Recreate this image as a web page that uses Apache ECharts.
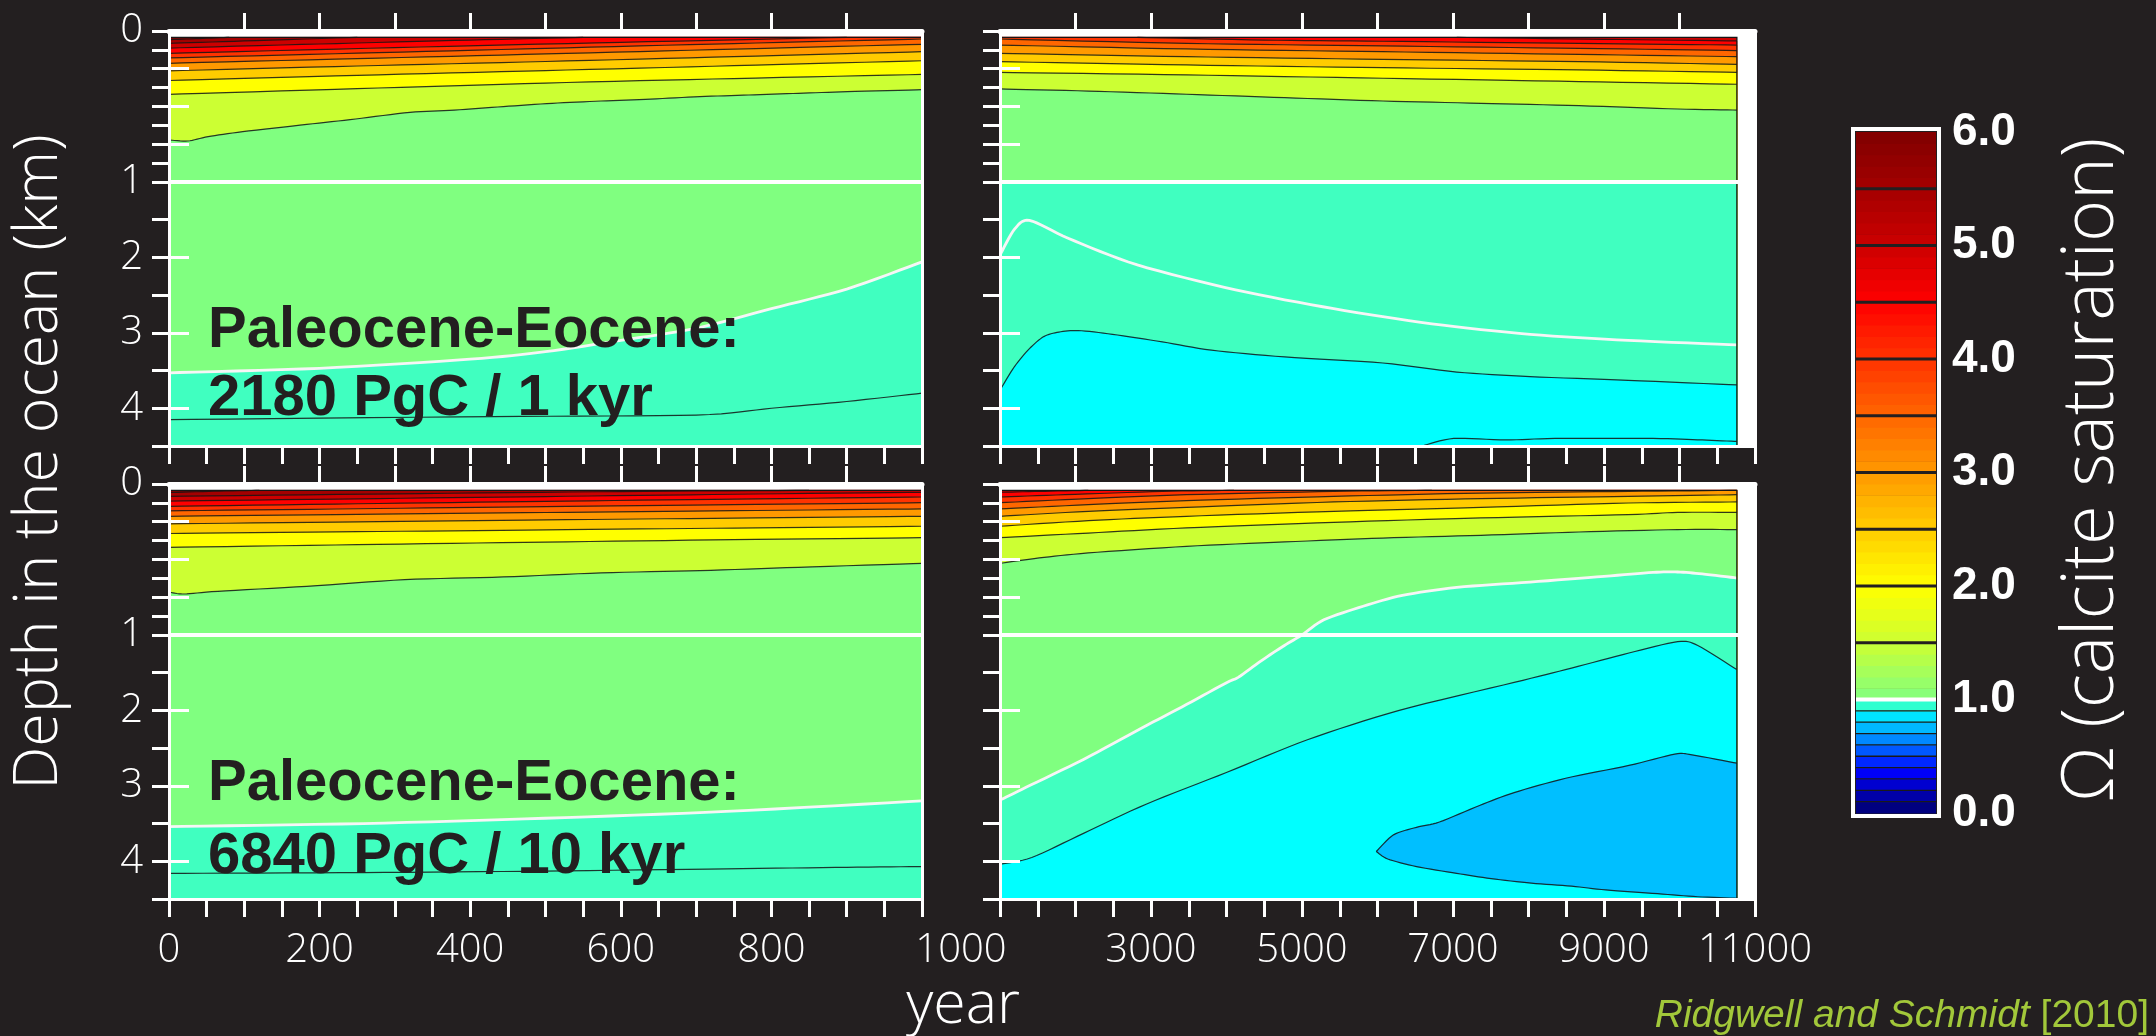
<!DOCTYPE html>
<html>
<head>
<meta charset="utf-8">
<title>Calcite saturation during Paleocene-Eocene carbon release</title>
<script src="https://cdn.jsdelivr.net/npm/echarts@6.0.0/dist/echarts.min.js"></script>
<style>
  html, body { margin: 0; padding: 0; background: #231f20; }
  #chart { width: 2156px; height: 1036px; }
</style>
</head>
<body>
<div id="chart"></div>
<script>
// ---------------- data: years, depth in km, omega = calcite saturation ----------------
const surfaceLayerTop = 0.042;   // top of the shallowest model layer (km)
const oceanFloor = 4.5;          // km
const depthBreak = 1;            // upper kilometre is drawn at double scale
const longRunEnd = 10760;        // last stored year of the long runs

const depthTicks = [0, 0.125, 0.25, 0.375, 0.5, 0.625, 0.75, 0.875, 1, 1.5, 2, 2.5, 3, 3.5, 4, 4.5];
const depthMajorTicks = [0.25, 0.5, 0.75, 2, 3, 4];
const depthLabels = [0, 1, 2, 3, 4];
const yearLabelsShort = [0, 200, 400, 600, 800];
const yearLabelsLong = [3000, 5000, 7000, 9000, 11000];
const sharedYearLabel = '1000';
const omegaLabels = [0, 1, 2, 3, 4, 5, 6];

// contour lines: [omega of the line, band below the line, [[year, depth], ...]]
const pulse1kyrEarly = [
  [6.0, 5.5, [[0, 0.057], [40, 0.050], [80, 0.042]]],
  [5.5, 5.0, [[0, 0.082], [100, 0.066], [250, 0.042]]],
  [5.0, 4.5, [[0, 0.113], [200, 0.086], [400, 0.060], [550, 0.042]]],
  [4.5, 4.0, [[0, 0.148], [300, 0.110], [600, 0.075], [900, 0.042]]],
  [4.0, 3.5, [[0, 0.178], [250, 0.147], [500, 0.115], [750, 0.083], [1000, 0.053]]],
  [3.5, 3.0, [[0, 0.214], [250, 0.183], [500, 0.152], [750, 0.120], [1000, 0.088]]],
  [3.0, 2.5, [[0, 0.264], [250, 0.232], [500, 0.202], [750, 0.170], [1000, 0.137]]],
  [2.5, 2.0, [[0, 0.328], [250, 0.294], [500, 0.262], [750, 0.230], [1000, 0.197]]],
  [2.0, 1.5, [[0, 0.420], [250, 0.382], [500, 0.345], [750, 0.315], [1000, 0.288]]],
  [1.5, 1.0, [[0, 0.722], [25, 0.729], [52, 0.700], [98, 0.667], [183, 0.619], [248, 0.583], [320, 0.539],
              [379, 0.524], [444, 0.501], [509, 0.479], [574, 0.464], [640, 0.451], [705, 0.435],
              [770, 0.424], [836, 0.413], [901, 0.402], [1000, 0.389]]],
  [1.0, 0.9, [[0, 3.53], [200, 3.47], [400, 3.35], [500, 3.25], [600, 3.10], [700, 2.94], [800, 2.68], [900, 2.42], [1000, 2.06]]],
  [0.95, 0.9, [[0, 4.15], [430, 4.11], [700, 4.09], [800, 4.00], [900, 3.91], [1000, 3.80]]]
];

const pulse1kyrLate = [
  [5.0, 4.5, [[7050, 0.042], [9000, 0.055], [10760, 0.066]]],
  [4.5, 4.0, [[2820, 0.042], [4500, 0.060], [6070, 0.068], [8670, 0.082], [10760, 0.093]]],
  [4.0, 3.5, [[1000, 0.053], [3470, 0.082], [6070, 0.099], [8670, 0.115], [10760, 0.130]]],
  [3.5, 3.0, [[1000, 0.093], [3470, 0.119], [6070, 0.137], [8670, 0.155], [10760, 0.170]]],
  [3.0, 2.5, [[1000, 0.148], [3470, 0.170], [6070, 0.188], [8670, 0.203], [10760, 0.221]]],
  [2.5, 2.0, [[1000, 0.203], [3470, 0.225], [6070, 0.243], [8670, 0.258], [10760, 0.274]]],
  [2.0, 1.5, [[1000, 0.274], [3470, 0.291], [6070, 0.313], [8670, 0.335], [10760, 0.353]]],
  [1.5, 1.0, [[1000, 0.384], [2170, 0.398], [3470, 0.419], [4770, 0.442], [6070, 0.464], [7370, 0.479],
              [8670, 0.495], [9975, 0.517], [10760, 0.524]]],
  [1.0, 0.9, [[1000, 1.0], [10760, 1.0]]],
  [1.0, 0.9, [[1000, 1.97], [1190, 1.63], [1390, 1.51], [1910, 1.75], [2820, 2.10], [4120, 2.43], [5420, 2.68],
              [6720, 2.88], [8020, 3.02], [9320, 3.10], [10760, 3.16]]],
  [0.9, 0.8, [[1000, 3.76], [1190, 3.45], [1390, 3.21], [1580, 3.05], [1780, 2.99], [2040, 2.97], [2490, 3.02],
              [3150, 3.12], [3800, 3.23], [4770, 3.32], [6070, 3.40], [7050, 3.52], [8020, 3.58], [9320, 3.63], [10760, 3.69]]],
  [0.85, 0.8, [[6590, 4.5], [7010, 4.40], [7700, 4.42], [8350, 4.40], [9650, 4.40], [10300, 4.42], [10760, 4.44]]]
];

const pulse10kyrEarly = [
  [6.0, 5.5, [[0, 0.057], [60, 0.048], [120, 0.042]]],
  [5.5, 5.0, [[0, 0.082], [300, 0.065], [600, 0.050], [850, 0.042]]],
  [5.0, 4.5, [[0, 0.113], [250, 0.098], [500, 0.083], [750, 0.068], [1000, 0.055]]],
  [4.5, 4.0, [[0, 0.148], [250, 0.131], [500, 0.115], [750, 0.100], [1000, 0.086]]],
  [4.0, 3.5, [[0, 0.178], [250, 0.164], [500, 0.150], [750, 0.137], [1000, 0.124]]],
  [3.5, 3.0, [[0, 0.214], [250, 0.201], [500, 0.189], [750, 0.177], [1000, 0.165]]],
  [3.0, 2.5, [[0, 0.264], [250, 0.251], [500, 0.238], [750, 0.226], [1000, 0.214]]],
  [2.5, 2.0, [[0, 0.328], [250, 0.316], [500, 0.304], [750, 0.292], [1000, 0.280]]],
  [2.0, 1.5, [[0, 0.420], [250, 0.402], [500, 0.385], [750, 0.369], [1000, 0.356]]],
  [1.5, 1.0, [[0, 0.716], [20, 0.729], [65, 0.711], [183, 0.678], [313, 0.634], [444, 0.616], [574, 0.589],
              [705, 0.574], [836, 0.552], [1000, 0.526]]],
  [1.0, 0.9, [[0, 3.54], [258, 3.50], [499, 3.43], [740, 3.34], [1000, 3.20]]],
  [0.95, 0.9, [[0, 4.16], [258, 4.15], [499, 4.13], [740, 4.10], [900, 4.08], [1000, 4.07]]]
];

const pulse10kyrLate = [
  [5.0, 4.5, [[1000, 0.055], [1520, 0.049], [2170, 0.042]]],
  [4.5, 4.0, [[1000, 0.086], [1860, 0.071], [3150, 0.049], [4100, 0.042]]],
  [4.0, 3.5, [[1000, 0.124], [2170, 0.097], [3470, 0.071], [5420, 0.049], [6720, 0.042]]],
  [3.5, 3.0, [[1000, 0.165], [2170, 0.137], [3470, 0.110], [5420, 0.082], [7370, 0.060], [9320, 0.049], [10760, 0.042]]],
  [3.0, 2.5, [[1000, 0.214], [2170, 0.181], [3470, 0.155], [5420, 0.119], [7370, 0.097], [9320, 0.082], [10760, 0.071]]],
  [2.5, 2.0, [[1000, 0.280], [2170, 0.243], [3470, 0.214], [5420, 0.181], [7370, 0.155], [9320, 0.126], [10760, 0.119]]],
  [2.0, 1.5, [[1000, 0.356], [2170, 0.325], [3470, 0.291], [5420, 0.254], [7370, 0.225], [9320, 0.203], [9975, 0.188], [10760, 0.188]]],
  [1.5, 1.0, [[1000, 0.526], [1520, 0.490], [2170, 0.457], [3470, 0.413], [4770, 0.384], [6070, 0.358],
              [7370, 0.340], [8670, 0.318], [9975, 0.302], [10760, 0.302]]],
  [1.0, 0.9, [[1000, 3.19], [1345, 3.02], [2106, 2.65], [2866, 2.24], [3474, 1.92], [4007, 1.63], [4160, 1.56],
              [4464, 1.34], [4767, 1.14], [5000, 1.0], [5290, 0.90], [5810, 0.81], [6330, 0.738], [7050, 0.685],
              [8020, 0.65], [9000, 0.612], [9650, 0.586], [9975, 0.583], [10300, 0.596], [10760, 0.623]]],
  [0.9, 0.8, [[1000, 4.04], [1421, 3.95], [2106, 3.63], [2943, 3.24], [4007, 2.82], [5072, 2.39], [6288, 2.00],
              [7810, 1.63], [8570, 1.44], [9330, 1.24], [9976, 1.09], [10242, 1.14], [10758, 1.46]]]
];

// closed omega = 0.8 region of the 10 kyr run: upper and lower edges from the western tip
const pulse10kyrCoreUpper = [[5984, 3.87], [6212, 3.65], [6517, 3.55], [6820, 3.48], [7352, 3.26], [7810, 3.09],
  [8493, 2.90], [9330, 2.73], [9938, 2.58], [10166, 2.59], [10760, 2.70]];
const pulse10kyrCoreLower = [[5984, 3.87], [6136, 3.97], [6517, 4.07], [7048, 4.16], [7505, 4.23], [8037, 4.29],
  [8570, 4.33], [9025, 4.38], [9710, 4.43], [10242, 4.47], [10760, 4.49]];

// ---------------- styling ----------------
const BG = '#231f20';
const LIGHT_FONT = "'Open Sans', Lato, sans-serif";
const bandColours = {
  '6': '#800000', '5.5': '#a40000', '5': '#cc0000', '4.5': '#ff0000', '4': '#ff3300',
  '3.5': '#ff6600', '3': '#ff9900', '2.5': '#ffcc00', '2': '#ffff00', '1.5': '#ccff33',
  '1': '#80ff80', '0.9': '#40ffc0', '0.8': '#00ffff', '0.7': '#00bfff'
};
const bandFill = b => bandColours[String(b)];
const lowScaleColours = ['#000080', '#0000a8', '#0000d0', '#0000f8', '#0028ff', '#0058ff',
                         '#0088ff', '#00b8ff', '#00e4ff', '#30ffd0'];
const contourInk = 'rgba(20,20,20,0.85)';

// depth (km) -> position on the stretched depth axis
const toAxis = d => (d <= depthBreak ? d * 2 : d + depthBreak);

const range = (a, b, s) => { const r = []; for (let v = a; v <= b + 1e-9; v += s) r.push(v); return r; };

// smooth curve through projected contour vertices (cubic Hermite, Catmull-Rom tangents)
function smoothPixels(pts) {
  if (pts.length < 3) return pts;
  const k = 0.42, out = [pts[0]];
  for (let i = 0; i < pts.length - 1; i++) {
    const p0 = pts[Math.max(0, i - 1)], p1 = pts[i], p2 = pts[i + 1], p3 = pts[Math.min(pts.length - 1, i + 2)];
    const m1 = [(p2[0] - p0[0]) * k, (p2[1] - p0[1]) * k];
    const m2 = [(p3[0] - p1[0]) * k, (p3[1] - p1[1]) * k];
    for (let s = 1; s <= 8; s++) {
      const t = s / 8, t2 = t * t, t3 = t2 * t;
      const h00 = 2 * t3 - 3 * t2 + 1, h10 = t3 - 2 * t2 + t, h01 = -2 * t3 + 3 * t2, h11 = t3 - t2;
      out.push([h00 * p1[0] + h10 * m1[0] + h01 * p2[0] + h11 * m2[0],
                h00 * p1[1] + h10 * m1[1] + h01 * p2[1] + h11 * m2[1]]);
    }
  }
  return out;
}

const panels = [
  { left: 169, top: 31, width: 753, height: 415, x: [0, 1000], end: 1000, step: 50,
    inner: range(100, 900, 100), labels: null, yLabels: true, base: 6, contours: pulse1kyrEarly },
  { left: 1000, top: 31, width: 755, height: 415, x: [1000, 11000], end: longRunEnd, step: 500,
    inner: range(2000, 10000, 1000), labels: null, yLabels: false, base: 5, contours: pulse1kyrLate },
  { left: 169, top: 484, width: 753, height: 415, x: [0, 1000], end: 1000, step: 50,
    inner: range(100, 900, 100), labels: yearLabelsShort, yLabels: true, base: 6, contours: pulse10kyrEarly },
  { left: 1000, top: 484, width: 755, height: 415, x: [1000, 11000], end: longRunEnd, step: 500,
    inner: range(2000, 10000, 1000), labels: yearLabelsLong, yLabels: false, base: 5, contours: pulse10kyrLate,
    core: { upper: pulse10kyrCoreUpper, lower: pulse10kyrCoreLower, band: 0.7 } }
];

function buildShapes(p) {
  const x0 = p.x[0], x1 = p.end;
  const atTop = pt => pt[1] <= surfaceLayerTop + 1e-9;
  const shapes = [{
    kind: 'rect', fill: bandFill(p.base),
    pts: [[x0, surfaceLayerTop], [x1, surfaceLayerTop], [x1, oceanFloor], [x0, oceanFloor]]
  }];
  p.contours.forEach(([omega, below, line]) => {
    const first = line[0], last = line[line.length - 1];
    const pre = [], post = [];
    if (atTop(first) && first[0] > x0) pre.push([x0, surfaceLayerTop]);
    if (atTop(last) && last[0] < x1) post.push([x1, surfaceLayerTop]);
    post.push([post.length ? x1 : last[0], oceanFloor], [pre.length ? x0 : first[0], oceanFloor]);
    shapes.push({ kind: 'band', line, pre, post, fill: bandFill(below) });
  });
  if (p.core) shapes.push({ kind: 'core', upper: p.core.upper, lower: p.core.lower, fill: bandFill(p.core.band) });
  p.contours.forEach(([omega, below, line]) => {
    const sat = omega === 1;
    shapes.push({ kind: 'stroke', line, stroke: sat ? '#f6f6f6' : contourInk, lw: sat ? 2.8 : 1.2 });
  });
  if (p.core) {
    shapes.push({ kind: 'stroke', line: p.core.upper, stroke: contourInk, lw: 1.2 });
    shapes.push({ kind: 'stroke', line: p.core.lower, stroke: contourInk, lw: 1.2 });
  }
  // outline of the stored model domain (surface layer top and last stored year)
  shapes.push({ kind: 'edge', line: [[x0, surfaceLayerTop], [x1, surfaceLayerTop], [x1, oceanFloor]], stroke: '#161616', lw: 1.3 });
  return shapes;
}

const whiteLine = w => ({ show: true, onZero: false, lineStyle: { color: '#fff', width: w } });
const tickLabelStyle = { color: '#fff', fontFamily: LIGHT_FONT, fontWeight: 300, fontSize: 40 };

const grid = [], xAxis = [], yAxis = [], series = [];

panels.forEach((p, gi) => {
  grid.push({ left: p.left, top: p.top, width: p.width, height: p.height, show: true,
              backgroundColor: '#ffffff', borderWidth: 0 });
  const xi = xAxis.length, yi = yAxis.length;
  const xBase = { type: 'value', gridIndex: gi, min: p.x[0], max: p.x[1], z: 10, splitLine: { show: false } };
  const yBase = { type: 'value', gridIndex: gi, min: 0, max: toAxis(oceanFloor), inverse: true, z: 10, splitLine: { show: false } };

  xAxis.push(Object.assign({}, xBase, {
    position: 'bottom', interval: p.step, axisLine: whiteLine(3),
    axisTick: { show: true, length: 18, customValues: range(p.x[0], p.x[1], p.step), lineStyle: { color: '#fff', width: 3 } },
    axisLabel: p.labels ? Object.assign({ show: true, margin: 32, customValues: p.labels, formatter: v => String(v) }, tickLabelStyle)
                        : { show: false }
  }));
  xAxis.push(Object.assign({}, xBase, {
    position: 'bottom', axisLine: { show: false },
    axisTick: { show: true, inside: true, length: 18, customValues: p.inner, lineStyle: { color: '#fff', width: 3 } },
    axisLabel: { show: false }
  }));
  xAxis.push(Object.assign({}, xBase, {
    position: 'top', axisLine: whiteLine(5), axisTick: { show: false }, axisLabel: { show: false }
  }));

  yAxis.push(Object.assign({}, yBase, {
    position: 'left', axisLine: whiteLine(3),
    axisTick: { show: true, length: 17, customValues: depthTicks.map(toAxis), lineStyle: { color: '#fff', width: 3 } },
    axisLabel: p.yLabels ? Object.assign({
      show: true, margin: 26, customValues: depthLabels.map(toAxis),
      formatter: v => String(v <= 2 ? v / 2 : v - depthBreak)
    }, tickLabelStyle) : { show: false }
  }));
  yAxis.push(Object.assign({}, yBase, {
    position: 'left', axisLine: { show: false },
    axisTick: { show: true, inside: true, length: 20, customValues: depthMajorTicks.map(toAxis), lineStyle: { color: '#fff', width: 3 } },
    axisLabel: { show: false }
  }));
  yAxis.push(Object.assign({}, yBase, {
    position: 'right', axisLine: whiteLine(3), axisTick: { show: false }, axisLabel: { show: false }
  }));

  const shapes = buildShapes(p);
  series.push({
    type: 'custom', xAxisIndex: xi, yAxisIndex: yi, clip: true, silent: true, z: 2,
    data: shapes.map((s, i) => [p.x[0], 0, i]), encode: { x: 0, y: 1 },
    renderItem: (params, api) => {
      const s = shapes[params.dataIndex];
      const px = arr => arr.map(q => api.coord([q[0], toAxis(q[1])]));
      if (s.kind === 'rect') {
        return { type: 'polygon', shape: { points: px(s.pts) }, style: { fill: s.fill } };
      }
      if (s.kind === 'band') {
        const points = px(s.pre).concat(smoothPixels(px(s.line)), px(s.post));
        return { type: 'polygon', shape: { points }, style: { fill: s.fill, stroke: s.fill, lineWidth: 0.6 } };
      }
      if (s.kind === 'core') {
        const points = smoothPixels(px(s.upper)).concat(smoothPixels(px(s.lower)).reverse());
        return { type: 'polygon', shape: { points }, style: { fill: s.fill, stroke: s.fill, lineWidth: 0.6 } };
      }
      const points = s.kind === 'edge' ? px(s.line) : smoothPixels(px(s.line));
      return { type: 'polyline', shape: { points }, style: { stroke: s.stroke, lineWidth: s.lw, fill: null } };
    }
  });
  // white rule marking the change of depth scale at 1 km
  series.push({
    type: 'line', xAxisIndex: xi, yAxisIndex: yi, silent: true, z: 6, symbol: 'none',
    lineStyle: { color: '#ffffff', width: 4 },
    data: [[p.x[0], toAxis(depthBreak)], [p.x[1], toAxis(depthBreak)]]
  });
});

// ---------------- colour scale ----------------
const hex = c => [1, 3, 5].map(i => parseInt(c.slice(i, i + 2), 16));
const mix = (a, b, f) => { const A = hex(a), B = hex(b);
  return 'rgb(' + A.map((v, i) => Math.round(v + (B[i] - v) * f)).join(',') + ')'; };
function scaleColour(v) {
  if (v < 1) return lowScaleColours[Math.min(9, Math.floor(v * 10))];
  const lower = 1 + 0.5 * Math.floor((v - 1) / 0.5);
  return mix(bandFill(lower), bandFill(Math.min(6, lower + 0.5)), (v - lower) / 0.5);
}
const scaleItems = [];
for (let i = 0; i < 60; i++) scaleItems.push({ kind: 'step', v0: i / 10, v1: (i + 1) / 10, fill: scaleColour(i / 10 + 0.05) });
for (let i = 1; i < 10; i++) scaleItems.push({ kind: 'line', v: i / 10, stroke: '#1a1a1a', lw: 1.3 });
for (let v = 1.5; v < 6; v += 0.5) scaleItems.push({ kind: 'line', v, stroke: '#231f20', lw: 3 });
scaleItems.push({ kind: 'line', v: 1, stroke: '#ffffff', lw: 4, inset: true });
scaleItems.push({ kind: 'frame' });

const gScale = grid.length;
grid.push({ left: 1856, top: 132, width: 80, height: 681, show: false });
xAxis.push({ type: 'value', gridIndex: gScale, min: 0, max: 1, show: false });
yAxis.push({ type: 'value', gridIndex: gScale, min: 0, max: 6, position: 'right',
  axisLine: { show: false }, axisTick: { show: false }, splitLine: { show: false },
  axisLabel: { show: true, margin: 16, customValues: omegaLabels, formatter: v => v.toFixed(1), padding: [16, 0, 0, 0],
               color: '#fff', fontFamily: "'Liberation Sans', Arial, sans-serif", fontWeight: 'bold', fontSize: 46 } });
series.push({
  type: 'custom', xAxisIndex: xAxis.length - 1, yAxisIndex: yAxis.length - 1, clip: false, silent: true, z: 3,
  data: scaleItems.map((s, i) => [0, 0, i]), encode: { x: 0, y: 1 },
  renderItem: (params, api) => {
    const it = scaleItems[params.dataIndex];
    if (it.kind === 'step') {
      const a = api.coord([0, it.v1]), b = api.coord([1, it.v0]);
      return { type: 'rect', shape: { x: a[0], y: a[1], width: b[0] - a[0], height: b[1] - a[1] + 0.6 }, style: { fill: it.fill } };
    }
    if (it.kind === 'line') {
      const e = it.inset ? 0 : 0.03;
      const a = api.coord([-e, it.v]), b = api.coord([1 + e, it.v]);
      return { type: 'line', shape: { x1: a[0], y1: a[1], x2: b[0], y2: b[1] }, style: { stroke: it.stroke, lineWidth: it.lw } };
    }
    const a = api.coord([0, 6]), b = api.coord([1, 0]);
    return { type: 'rect', shape: { x: a[0] - 3, y: a[1] - 3, width: b[0] - a[0] + 6, height: b[1] - a[1] + 6 },
             style: { fill: null, stroke: '#ffffff', lineWidth: 4 } };
  }
});

// ---------------- titles and annotations ----------------
const runTitleStyle = { fill: BG, font: "bold 58px 'Liberation Sans', Arial, sans-serif", textAlign: 'left', textVerticalAlign: 'middle' };
const graphic = [
  { type: 'text', x: 40, y: 462, rotation: Math.PI / 2, z: 100,
    style: { text: 'Depth in the ocean (km)', fill: '#fff', font: `300 61px ${LIGHT_FONT}`, textAlign: 'center', textVerticalAlign: 'middle' } },
  { type: 'text', x: 963, y: 1006, z: 100,
    style: { text: 'year', fill: '#fff', font: `300 59px ${LIGHT_FONT}`, textAlign: 'center', textVerticalAlign: 'middle' } },
  { type: 'text', x: 961, y: 951, z: 100,
    style: { text: sharedYearLabel, fill: '#fff', font: `300 40px ${LIGHT_FONT}`, textAlign: 'center', textVerticalAlign: 'middle' } },
  { type: 'text', x: 2092, y: 470, rotation: Math.PI / 2, z: 100,
    style: { text: 'Ω (calcite saturation)', fill: '#fff', font: `300 72px ${LIGHT_FONT}`, textAlign: 'center', textVerticalAlign: 'middle' } },
  { type: 'text', x: 208, y: 331, z: 100, style: Object.assign({ text: 'Paleocene-Eocene:' }, runTitleStyle) },
  { type: 'text', x: 208, y: 399, z: 100, style: Object.assign({ text: '2180 PgC / 1 kyr' }, runTitleStyle) },
  { type: 'text', x: 208, y: 784, z: 100, style: Object.assign({ text: 'Paleocene-Eocene:' }, runTitleStyle) },
  { type: 'text', x: 208, y: 857, z: 100, style: Object.assign({ text: '6840 PgC / 10 kyr' }, runTitleStyle) },
  { type: 'text', x: 2149, y: 1016, z: 100,
    style: { text: '{i|Ridgwell and Schmidt} [2010]', fill: '#a2c83a', font: "39px 'Liberation Sans', Arial, sans-serif",
             textAlign: 'right', textVerticalAlign: 'middle',
             rich: { i: { fontStyle: 'italic', fill: '#a2c83a', font: "italic 39px 'Liberation Sans', Arial, sans-serif" } } } }
];

const chart = echarts.init(document.getElementById('chart'), null, { renderer: 'canvas' });
chart.setOption({
  backgroundColor: BG,
  animation: false,
  grid, xAxis, yAxis, series, graphic
});
</script>
</body>
</html>
